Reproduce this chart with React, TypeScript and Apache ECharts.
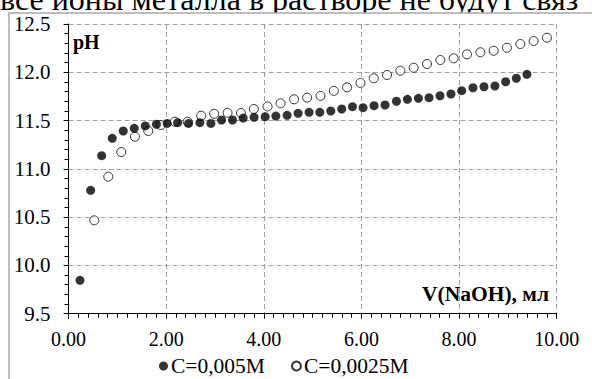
import React, { useEffect, useRef } from "react";
import * as echarts from "echarts";

const TOP_TEXT = "все ионы металла в растворе не будут связ";
const SERIES_NAMES = ["C=0,005M", "C=0,0025M"];
const X_AXIS_NAME = "V(NaOH), мл";
const Y_AXIS_NAME = "pH";

const xFilled = [
  0.233, 0.452, 0.677, 0.895, 1.12, 1.345, 1.57, 1.8, 2.02, 2.233, 2.458, 2.69, 2.915, 3.134,
  3.359, 3.576, 3.8, 4.027, 4.246, 4.477, 4.702, 4.927, 5.146, 5.371, 5.596, 5.816, 6.033,
  6.258, 6.483, 6.717, 6.942, 7.167, 7.384, 7.609, 7.834, 8.053, 8.285, 8.51, 8.735, 8.954,
  9.173, 9.39,
];
const yFilled = [
  9.846, 10.778, 11.136, 11.316, 11.392, 11.42, 11.444, 11.462, 11.47, 11.478, 11.47, 11.478,
  11.47, 11.506, 11.506, 11.526, 11.534, 11.54, 11.547, 11.554, 11.575, 11.585, 11.585, 11.599,
  11.62, 11.644, 11.633, 11.654, 11.661, 11.7, 11.72, 11.73, 11.737, 11.757, 11.775, 11.81,
  11.84, 11.85, 11.858, 11.902, 11.938, 11.979,
];
const xOpen = [
  0.526, 0.813, 1.079, 1.359, 1.632, 1.89, 2.178, 2.438, 2.716, 2.983, 3.257, 3.53, 3.795,
  4.076, 4.342, 4.62, 4.887, 5.16, 5.433, 5.705, 5.98, 6.252, 6.524, 6.798, 7.07, 7.343, 7.617,
  7.889, 8.162, 8.436, 8.708, 8.98, 9.255, 9.527, 9.8,
];
const yOpen = [
  10.467, 10.919, 11.174, 11.333, 11.392, 11.454, 11.488, 11.488, 11.55, 11.57, 11.58, 11.578,
  11.62, 11.646, 11.679, 11.72, 11.737, 11.756, 11.808, 11.844, 11.89, 11.938, 11.972, 12.016,
  12.047, 12.086, 12.127, 12.145, 12.186, 12.207, 12.223, 12.254, 12.293, 12.324, 12.358,
];

const FONT = "Liberation Serif";

export default function App() {
  const ref = useRef<HTMLDivElement>(null);
  useEffect(() => {
    if (!ref.current) return;
    const chart = echarts.init(ref.current, undefined, { renderer: "svg" });
    const filled = xFilled.map((x, i) => [x, yFilled[i]]);
    const open = xOpen.map((x, i) => [x, yOpen[i]]);
    const gridLine = { show: true, lineStyle: { color: "#a0a0a0", type: [5, 3], width: 1 } };
    chart.setOption({
      animation: false,
      backgroundColor: "#fff",
      grid: { left: 68.6, right: 35.3, top: 24, bottom: 65.3 },
      xAxis: {
        type: "value",
        min: 0,
        max: 10,
        interval: 2,
        axisLine: { show: true, onZero: false, lineStyle: { color: "#000", width: 1 } },
        axisTick: { show: true, length: 5, lineStyle: { color: "#000" } },
        minorTick: { show: true, splitNumber: 10, length: 4, lineStyle: { color: "#000" } },
        splitLine: gridLine,
        axisLabel: {
          formatter: (v: number) => v.toFixed(2),
          fontFamily: FONT,
          fontSize: 20,
          color: "#000",
          margin: 15,
        },
      },
      yAxis: {
        type: "value",
        min: 9.5,
        max: 12.5,
        interval: 0.5,
        axisLine: { show: true, onZero: false, lineStyle: { color: "#000", width: 1 } },
        axisTick: { show: true, length: 5, lineStyle: { color: "#000" } },
        minorTick: { show: true, splitNumber: 5, length: 4, lineStyle: { color: "#000" } },
        splitLine: gridLine,
        axisLabel: {
          formatter: (v: number) => v.toFixed(1),
          fontFamily: FONT,
          fontSize: 21,
          color: "#000",
          margin: 18,
        },
      },
      legend: {
        left: 154,
        top: 350,
        itemWidth: 9,
        itemHeight: 9,
        itemGap: 26,
        icon: "circle",
        textStyle: { fontFamily: FONT, fontSize: 21.5, color: "#000", padding: [0, 0, 0, -2] },
        data: SERIES_NAMES,
      },
      series: [
        {
          name: SERIES_NAMES[0],
          type: "scatter",
          symbol: "circle",
          symbolSize: 9,
          itemStyle: { color: "#000" },
          data: filled,
          z: 3,
        },
        {
          name: SERIES_NAMES[1],
          type: "scatter",
          symbol: "circle",
          symbolSize: 9,
          itemStyle: { color: "#fff", borderColor: "#000", borderWidth: 1 },
          data: open,
          z: 2,
        },
      ],
      graphic: [
        {
          type: "text",
          x: 0,
          y: -17,
          style: {
            text: TOP_TEXT,
            fontFamily: FONT,
            fontSize: 32,
            fill: "#000",
          },
          z: -10,
        },
        {
          type: "rect",
          shape: { x: 0, y: 13, width: 592, height: 366 },
          style: { fill: "#fff" },
          z: -5,
        },
        {
          type: "line",
          shape: { x1: 8, y1: 13, x2: 592, y2: 13 },
          style: { stroke: "#a8a8a8", lineWidth: 1.5 },
          z: 10,
        },
        {
          type: "line",
          shape: { x1: 9, y1: 13, x2: 9, y2: 379 },
          style: { stroke: "#a8a8a8", lineWidth: 1.5 },
          z: 10,
        },
        {
          type: "text",
          x: 73,
          y: 32,
          style: {
            text: Y_AXIS_NAME,
            fontFamily: FONT,
            fontWeight: "bold",
            fontSize: 20,
            fill: "#000",
          },
          z: 10,
        },
        {
          type: "text",
          x: 549,
          y: 283,
          style: {
            text: X_AXIS_NAME,
            fontFamily: FONT,
            fontWeight: "bold",
            fontSize: 21.5,
            fill: "#000",
            align: "right",
          },
          z: 10,
        },
      ],
    });
    return () => chart.dispose();
  }, []);
  return (
    <div
      ref={ref}
      style={{ position: "fixed", left: 0, top: 0, width: 592, height: 379, overflow: "hidden" }}
    />
  );
}
